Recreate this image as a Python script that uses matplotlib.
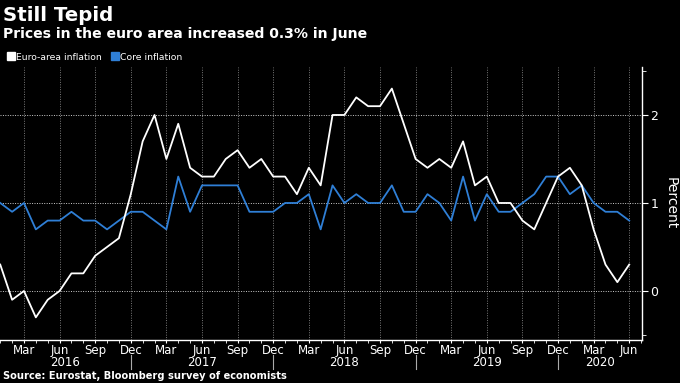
import matplotlib
matplotlib.use('Agg')
import matplotlib.pyplot as plt
from matplotlib.lines import Line2D
from matplotlib.ticker import FixedLocator, MultipleLocator
import matplotlib.transforms as mtransforms
import numpy as np

# Monthly readings, Jan 2016 .. Jun 2020 (percent, y/y)
headline = [0.3, -0.1, 0.0, -0.3, -0.1, 0.0, 0.2, 0.2, 0.4, 0.5, 0.6, 1.1,
            1.7, 2.0, 1.5, 1.9, 1.4, 1.3, 1.3, 1.5, 1.6, 1.4, 1.5, 1.3,
            1.3, 1.1, 1.4, 1.2, 2.0, 2.0, 2.2, 2.1, 2.1, 2.3, 1.9, 1.5,
            1.4, 1.5, 1.4, 1.7, 1.2, 1.3, 1.0, 1.0, 0.8, 0.7, 1.0, 1.3,
            1.4, 1.2, 0.7, 0.3, 0.1, 0.3]
core = [1.0, 0.9, 1.0, 0.7, 0.8, 0.8, 0.9, 0.8, 0.8, 0.7, 0.8, 0.9,
        0.9, 0.8, 0.7, 1.3, 0.9, 1.2, 1.2, 1.2, 1.2, 0.9, 0.9, 0.9,
        1.0, 1.0, 1.1, 0.7, 1.2, 1.0, 1.1, 1.0, 1.0, 1.2, 0.9, 0.9,
        1.1, 1.0, 0.8, 1.3, 0.8, 1.1, 0.9, 0.9, 1.0, 1.1, 1.3, 1.3,
        1.1, 1.2, 1.0, 0.9, 0.9, 0.8]
month_labels = ['Mar', 'Jun', 'Sep', 'Dec']
years = ['2016', '2017', '2018', '2019', '2020']

WHITE = '#ffffff'
BLUE = '#2f7fd6'
GRID = '#7a7a7a'

months = np.arange(len(headline))

fig = plt.figure(figsize=(6.8, 3.83), dpi=100)
fig.patch.set_facecolor('black')
ax = fig.add_axes([0.0, 0.1123, 0.944, 0.7127])
ax.set_facecolor('black')

ax.plot(months, core, color=BLUE, lw=1.3, zorder=3)
ax.plot(months, headline, color=WHITE, lw=1.3, zorder=4)

ax.set_xlim(-0.02, 54.07)
ax.set_ylim(-0.557, 2.545)

# x axis: quarter-month labels, monthly minor ticks
quarter_pos = np.arange(2, len(headline), 3)
ax.xaxis.set_major_locator(FixedLocator(quarter_pos))
ax.set_xticklabels([month_labels[i % 4] for i in range(len(quarter_pos))])
ax.xaxis.set_minor_locator(MultipleLocator(1))
ax.tick_params(axis='x', which='major', length=2.5, color=WHITE, labelcolor=WHITE,
               labelsize=8.5, pad=0.5)
ax.tick_params(axis='x', which='minor', length=2, color=WHITE)

# y axis on the right
ax.yaxis.tick_right()
ax.yaxis.set_label_position('right')
ax.set_yticks([0, 1, 2])
ax.yaxis.set_minor_locator(FixedLocator([-0.5, 2.5]))
ax.tick_params(axis='y', which='major', length=4, color=WHITE, labelcolor=WHITE,
               labelsize=9, pad=2)
ax.tick_params(axis='y', which='minor', length=3, color=WHITE)
ax.set_ylabel('Percent', color=WHITE, fontsize=10, rotation=270, labelpad=14)

for s in ['left', 'top']:
    ax.spines[s].set_visible(False)
for s in ['right', 'bottom']:
    ax.spines[s].set_color(WHITE)
    ax.spines[s].set_linewidth(1.0)

# grid
for q in quarter_pos:
    ax.axvline(q, color=GRID, lw=0.7, ls=(0, (1, 1.5)), zorder=1)
for yv in [0, 1, 2]:
    ax.axhline(yv, color='#cccccc', lw=0.7, ls=(0, (1, 1.5)), zorder=1)

# year labels and separators below the month labels
trans = mtransforms.blended_transform_factory(ax.transData, ax.transAxes)
bounds = [-0.02, 11, 23, 35, 47, 54.07]
for i, yr in enumerate(years):
    ax.text((bounds[i] + bounds[i + 1]) / 2, -0.06, yr, transform=trans,
            ha='center', va='top', color=WHITE, fontsize=8.5)
for b in bounds[1:-1]:
    ax.add_line(Line2D([b, b], [-0.055, -0.105], transform=trans, color='#aaaaaa',
                       lw=0.8, clip_on=False))

# titles
fig.text(0.004, 0.985, 'Still Tepid', color=WHITE, fontsize=14.2,
         fontweight='bold', ha='left', va='top')
fig.text(0.004, 0.93, 'Prices in the euro area increased 0.3% in June', color=WHITE,
         fontsize=10.1, fontweight='bold', ha='left', va='top')

handles = [Line2D([], [], marker='s', ls='none', color=WHITE, markersize=5.5),
           Line2D([], [], marker='s', ls='none', color=BLUE, markersize=5.5)]
fig.legend(handles, ['Euro-area inflation', 'Core inflation'], loc='center left',
           bbox_to_anchor=(-0.003, 1 - 57 / 383), ncol=2, frameon=False,
           fontsize=6.7, labelcolor=WHITE, handletextpad=0.05, columnspacing=0.9,
           handlelength=1.0)

fig.text(0.004, 0.006, 'Source: Eurostat, Bloomberg survey of economists', color=WHITE,
         fontsize=7.1, fontweight='bold', ha='left', va='bottom')

fig.savefig('out.png', dpi=100, facecolor='black')
